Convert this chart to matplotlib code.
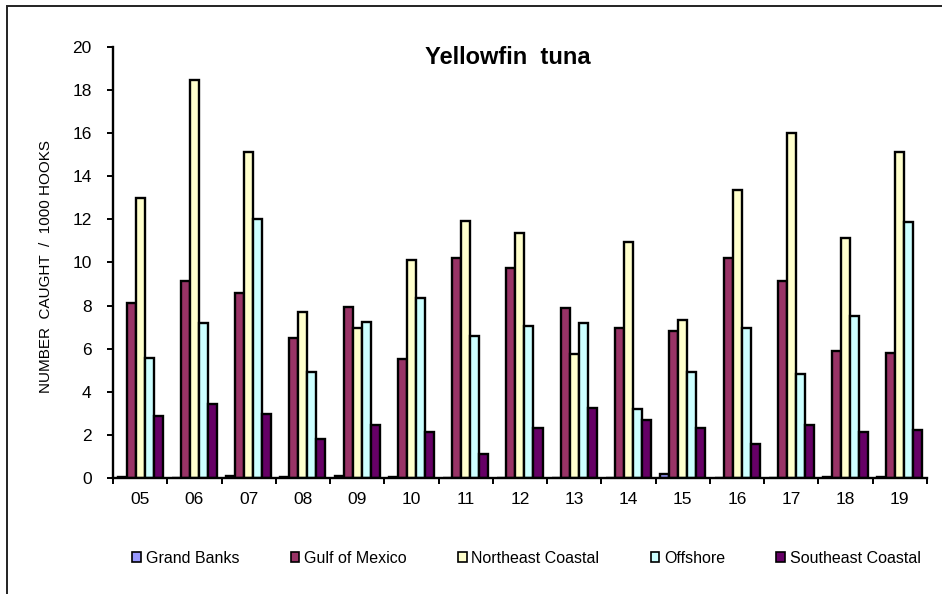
import matplotlib
matplotlib.use("Agg")
import matplotlib.pyplot as plt
import numpy as np
from matplotlib.patches import Rectangle

plt.rcParams["font.family"] = ["Liberation Sans", "DejaVu Sans"]

years = ["05", "06", "07", "08", "09", "10", "11", "12", "13", "14", "15", "16", "17", "18", "19"]
regions = ["Grand Banks", "Gulf of Mexico", "Northeast Coastal", "Offshore", "Southeast Coastal"]

grand_banks = [0.05, 0.0, 0.1, 0.05, 0.08, 0.05, 0.0, 0.0, 0.0, 0.0, 0.2, 0.0, 0.0, 0.05, 0.05]
gulf_of_mexico = [8.1, 9.15, 8.6, 6.48, 7.94, 5.5, 10.23, 9.74, 7.87, 6.97, 6.82, 10.23, 9.13, 5.89, 5.78]
northeast_coastal = [13.0, 18.48, 15.13, 7.71, 6.94, 10.1, 11.93, 11.36, 5.75, 10.93, 7.32, 13.35, 16.01, 11.13, 15.13]
offshore = [5.55, 7.2, 12.0, 4.9, 7.26, 8.33, 6.6, 7.05, 7.17, 3.18, 4.9, 6.97, 4.82, 7.51, 11.88]
southeast_coastal = [2.89, 3.43, 2.97, 1.79, 2.46, 2.15, 1.11, 2.3, 3.26, 2.69, 2.3, 1.56, 2.46, 2.15, 2.22]

series = [grand_banks, gulf_of_mexico, northeast_coastal, offshore, southeast_coastal]
colors = ["#9999FF", "#993366", "#FFFFCC", "#CCFFFF", "#660066"]

fig = plt.figure(figsize=(9.42, 5.94), dpi=100)
ax = fig.add_axes([0.12, 0.1953, 0.864, 0.7256])

x = np.arange(len(years))
w = 0.166
for i, (vals, c, name) in enumerate(zip(series, colors, regions)):
    ax.bar(x + (i - 2) * w, vals, width=w, color=c, edgecolor="black",
           linewidth=1.7, label=name)

ax.set_xlim(-0.5, len(years) - 0.5)
ax.set_ylim(0, 20)
ax.set_yticks(np.arange(0, 21, 2))
ax.tick_params(axis="y", direction="out", length=4.5, width=1.4, pad=11, labelsize=12.5)
ax.set_xticks(x)
ax.set_xticklabels(years)
ax.set_xticks(np.arange(-0.5, len(years), 1), minor=True)
ax.tick_params(axis="x", which="major", length=0, pad=10, labelsize=12.5)
ax.tick_params(axis="x", which="minor", direction="out", length=4.5, width=1.4)
for s in ["top", "right"]:
    ax.spines[s].set_visible(False)
for s in ["left", "bottom"]:
    ax.spines[s].set_linewidth(1.7)

ax.set_ylabel("NUMBER  CAUGHT  /  1000 HOOKS", fontsize=11)
ax.yaxis.set_label_coords(-0.074, 0.49)

ax.text(0.485, 0.9745, "Yellowfin  tuna", transform=ax.transAxes, ha="center",
        va="center", fontsize=17, fontweight="bold")

leg = fig.legend(loc="center", bbox_to_anchor=(0.559, 0.06), ncol=5, frameon=False,
                 fontsize=11.5, handlelength=0.55, handleheight=0.55, handletextpad=0.3,
                 columnspacing=3.2)
for h in leg.legend_handles:
    h.set_linewidth(1.2)

fig.patches.append(Rectangle((7 / 942, -0.2), 1.3, 1.2 - 6 / 594, transform=fig.transFigure,
                             fill=False, edgecolor="#222222", linewidth=1.4, clip_on=False))

fig.savefig("out.png", dpi=100)
